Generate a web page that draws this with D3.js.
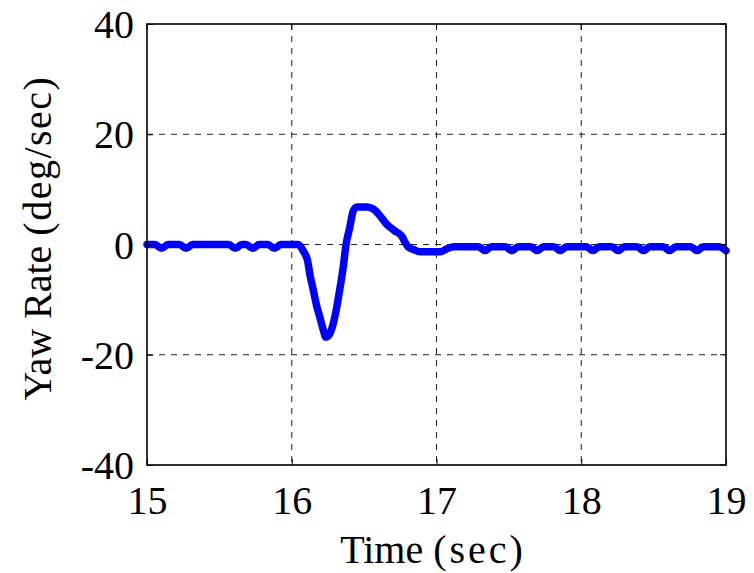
<!DOCTYPE html>
<html>
<head>
<meta charset="utf-8">
<script src="https://cdn.jsdelivr.net/npm/d3@7"></script>
<style>
  html, body { margin: 0; padding: 0; background: #fff; }
  svg { display: block; }
  text { font-family: "Liberation Serif", "Times New Roman", serif; fill: #000; }
</style>
</head>
<body>
<script>
// ---- data ----
const xTicks = [15, 16, 17, 18, 19];
const yTicks = [-40, -20, 0, 20, 40];
const xLabel = "Time (sec)";
const yLabel = "Yaw Rate (deg/sec)";

const times = [
  15.00, 15.055, 15.10, 15.145, 15.225, 15.27, 15.315, 15.565, 15.61, 15.655,
  15.685, 15.73, 15.775, 15.835, 15.88, 15.925, 16.03, 16.045,
  16.08, 16.11, 16.125, 16.145, 16.17, 16.195, 16.22, 16.235, 16.26, 16.285,
  16.31, 16.33, 16.355, 16.375, 16.40, 16.425, 16.45, 16.52, 16.565, 16.61,
  16.655, 16.71, 16.76, 16.785, 16.805, 16.84, 16.885, 17.00, 17.03, 17.07,
  17.12, 17.29, 17.335, 17.38, 17.475, 17.52, 17.565, 17.65, 17.695, 17.74,
  17.81, 17.855, 17.90, 18.035, 18.08, 18.125, 18.21, 18.255, 18.30,
  18.385, 18.43, 18.475, 18.565, 18.61, 18.655, 18.755, 18.80, 18.845, 18.95, 19.00
];
const yawRate = [
  0, 0, -0.7, 0, 0, -0.7, 0, 0, -0.7, 0,
  0, -0.7, 0, 0, -0.7, 0, 0, 0,
  -1.2, -3.0, -5.4, -7.8, -10.9, -13.3, -15.7, -16.8, -16.3, -14.5,
  -11.5, -8.4, -4.2, 0, 3.0, 6.1, 6.8, 6.8, 6.4, 5.2,
  3.7, 2.5, 1.5, 0.3, -0.45, -0.9, -1.3, -1.3, -1.3, -0.8,
  -0.4, -0.4, -1.1, -0.4, -0.4, -1.1, -0.4, -0.4, -1.1, -0.4,
  -0.4, -1.1, -0.4, -0.4, -1.1, -0.4, -0.4, -1.1, -0.4,
  -0.4, -1.1, -0.4, -0.4, -1.1, -0.4, -0.4, -1.1, -0.4, -0.4, -1.1
];

// ---- layout ----
const W = 754, H = 573;
const m = { left: 147, right: 28, top: 24, bottom: 108 };
const iw = W - m.left - m.right, ih = H - m.top - m.bottom;

const svg = d3.select("body").append("svg").attr("width", W).attr("height", H);
svg.append("rect").attr("width", W).attr("height", H).attr("fill", "#fff");

const x = d3.scaleLinear().domain([15, 19]).range([m.left, m.left + iw]);
const y = d3.scaleLinear().domain([-40, 40]).range([m.top + ih, m.top]);

// grid
const grid = svg.append("g").attr("stroke", "#222").attr("stroke-width", 1)
  .attr("stroke-dasharray", "6,6");
grid.selectAll(".gx").data(xTicks.slice(1, -1)).enter().append("line")
  .attr("x1", d => x(d)).attr("x2", d => x(d))
  .attr("y1", m.top).attr("y2", m.top + ih);
grid.selectAll(".gy").data(yTicks.slice(1, -1)).enter().append("line")
  .attr("y1", d => y(d)).attr("y2", d => y(d))
  .attr("x1", m.left).attr("x2", m.left + iw);

// data line
const pts = times.map((t, i) => [t, yawRate[i]]);
const line = d3.line().x(d => x(d[0])).y(d => y(d[1])).curve(d3.curveMonotoneX);
svg.append("path").datum(pts).attr("d", line)
  .attr("fill", "none").attr("stroke", "#0000ff").attr("stroke-width", 7.5)
  .attr("stroke-linejoin", "round").attr("stroke-linecap", "round");

// axes (ticks inward, MATLAB style)
const fmt = d => String(d); // plain hyphen-minus like the reference
const xAxis = d3.axisBottom(x).tickValues(xTicks).tickFormat(fmt)
  .tickSizeInner(-6).tickSizeOuter(0).tickPadding(20);
const yAxis = d3.axisLeft(y).tickValues(yTicks).tickFormat(fmt)
  .tickSizeInner(-6).tickSizeOuter(0).tickPadding(13);

const gx = svg.append("g").attr("transform", `translate(0,${m.top + ih})`).call(xAxis);
const gy = svg.append("g").attr("transform", `translate(${m.left},0)`).call(yAxis);
[gx, gy].forEach(g => {
  g.select(".domain").remove();
  g.selectAll(".tick line").attr("stroke", "#000").attr("stroke-width", 1);
  g.selectAll(".tick text").style("font-size", "40px")
    .style("font-family", '"Liberation Serif", "Times New Roman", serif').attr("fill", "#000");
});
gy.selectAll(".tick text").attr("dy", "0.34em");
gx.selectAll(".tick text").attr("dy", "0.72em");

// top ticks and right ticks
svg.append("g").selectAll("line").data(xTicks).enter().append("line")
  .attr("x1", d => x(d)).attr("x2", d => x(d)).attr("y1", m.top).attr("y2", m.top + 6)
  .attr("stroke", "#000");
svg.append("g").selectAll("line").data(yTicks).enter().append("line")
  .attr("y1", d => y(d)).attr("y2", d => y(d)).attr("x1", m.left + iw).attr("x2", m.left + iw - 6)
  .attr("stroke", "#000");

// frame
svg.append("rect").attr("x", m.left).attr("y", m.top).attr("width", iw).attr("height", ih)
  .attr("fill", "none").attr("stroke", "#000").attr("stroke-width", 1.6);

// axis labels
const xl = svg.append("text").attr("x", 433).attr("y", 563).attr("text-anchor", "middle")
  .style("font-size", "40px");
xl.append("tspan").text("Time ");
xl.append("tspan").attr("letter-spacing", "3px").text("(sec)");

const yl = svg.append("text").attr("transform", "translate(51,238) rotate(-90)")
  .attr("text-anchor", "middle").style("font-size", "40px");
yl.append("tspan").text("Yaw Rate ");
yl.append("tspan").attr("letter-spacing", "1.5px").text("(deg/sec)");
</script>
</body>
</html>
